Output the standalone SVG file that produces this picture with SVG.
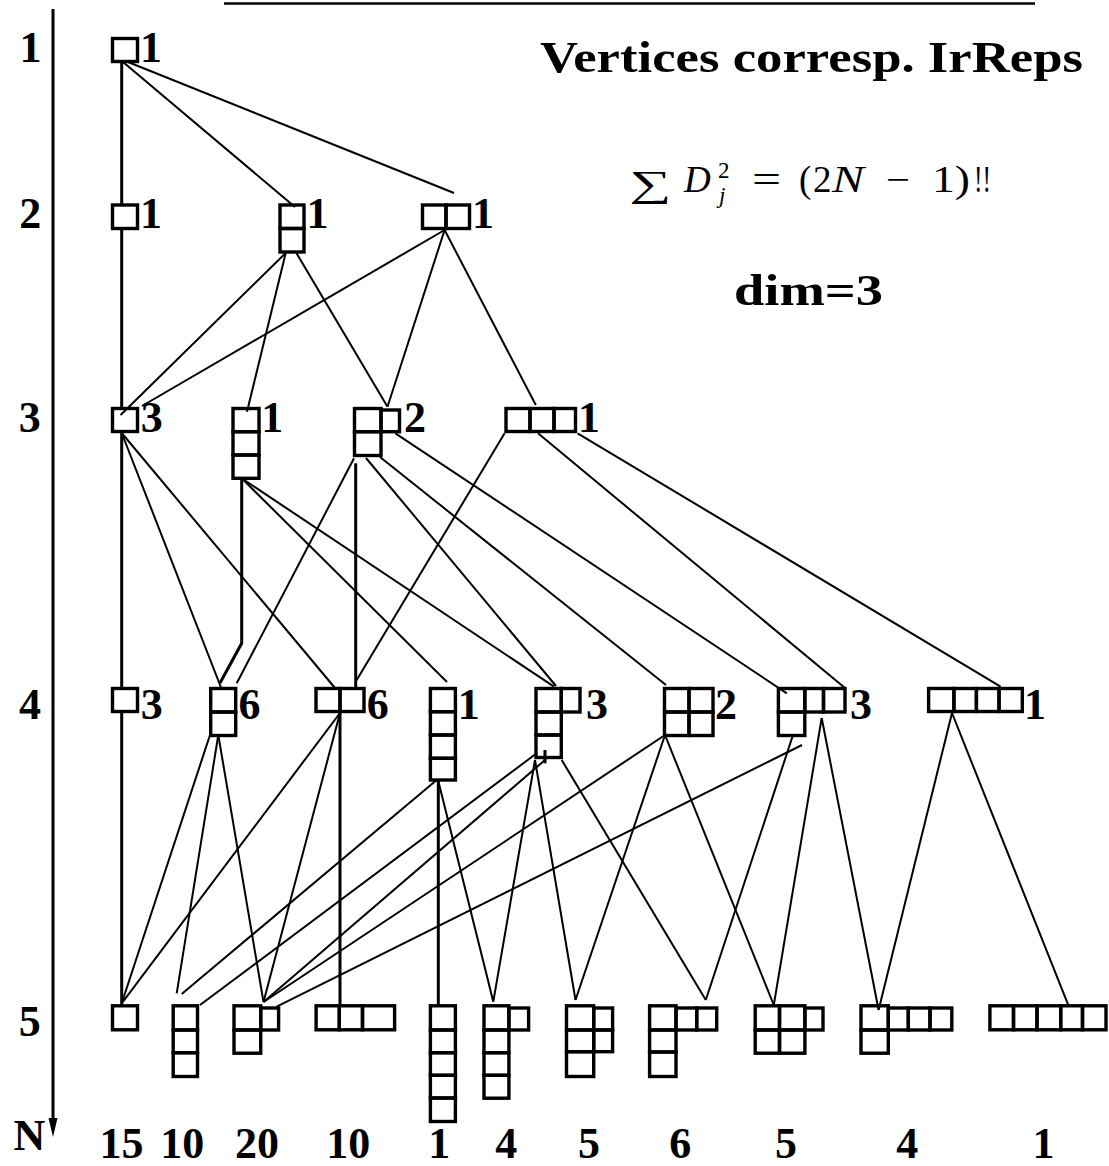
<svg xmlns="http://www.w3.org/2000/svg" width="1109" height="1166" viewBox="0 0 1109 1166">
<style>
.c{fill:none;stroke:#000;stroke-width:3.4}
.e{fill:none;stroke:#000;stroke-width:2}
.v{fill:none;stroke:#000;stroke-width:3}
.l{font-family:"Liberation Serif",serif;font-weight:bold;font-size:44px;text-anchor:middle;fill:#000}
.m{font-family:"Liberation Serif",serif;font-size:37px;fill:#000}
.i{font-style:italic}
</style>
<rect width="1109" height="1166" fill="#fff"/>
<g id="frame">
<line x1="224" y1="3.5" x2="1035" y2="3.5" stroke="#000" stroke-width="2.5"/>
<line x1="53" y1="9" x2="53" y2="1125" stroke="#000" stroke-width="3"/>
<polygon points="48.5,1118 57.5,1118 53,1137" fill="#000"/>
</g>
<g id="texts">
<text x="540" y="72" font-family="Liberation Serif, serif" font-weight="bold" font-size="45" textLength="543" lengthAdjust="spacingAndGlyphs">Vertices corresp. IrReps</text>
<text class="m" x="629" y="196" textLength="42" lengthAdjust="spacingAndGlyphs">∑</text>
<text class="m i" x="684" y="191.7">D</text>
<text x="718" y="178" style="font-family:'Liberation Serif',serif;font-size:23px">2</text>
<text x="719" y="203" style="font-family:'Liberation Serif',serif;font-size:23px;font-style:italic">j</text>
<text class="m" x="752" y="191.7" textLength="29" lengthAdjust="spacingAndGlyphs">=</text>
<text class="m" x="799" y="191.7">(</text>
<text class="m" x="813" y="191.7">2</text>
<text class="m i" x="832" y="191.7" textLength="32" lengthAdjust="spacingAndGlyphs">N</text>
<text class="m" x="886" y="191.7" textLength="24" lengthAdjust="spacingAndGlyphs">−</text>
<text class="m" x="932" y="191.7" textLength="38" lengthAdjust="spacingAndGlyphs">1)</text>
<text class="m" x="974" y="191.7" textLength="17" lengthAdjust="spacingAndGlyphs">!!</text>
<text x="734" y="305" font-family="Liberation Serif, serif" font-weight="bold" font-size="45" textLength="149" lengthAdjust="spacingAndGlyphs">dim=3</text>
<text class="l" x="30.4" y="62">1</text>
<text class="l" x="30.3" y="228.3">2</text>
<text class="l" x="29.7" y="431.7">3</text>
<text class="l" x="30" y="719">4</text>
<text class="l" x="29.8" y="1036">5</text>
<text class="l" x="29.5" y="1150">N</text>
<g id="dims">
<text class="l" x="121.4" y="1158">15</text>
<text class="l" x="182.2" y="1158">10</text>
<text class="l" x="257" y="1158">20</text>
<text class="l" x="348.2" y="1158">10</text>
<text class="l" x="439.3" y="1158">1</text>
<text class="l" x="506.3" y="1158">4</text>
<text class="l" x="589" y="1158">5</text>
<text class="l" x="680.2" y="1158">6</text>
<text class="l" x="786" y="1158">5</text>
<text class="l" x="907.3" y="1158">4</text>
<text class="l" x="1043.5" y="1158">1</text>
</g>
</g>
<g id="connectors">
<line class="v" x1="121.7" y1="61.5" x2="121.7" y2="205"/>
<line class="e" x1="123" y1="62" x2="295" y2="207"/>
<line class="e" x1="128" y1="62" x2="454" y2="193"/>
<line class="v" x1="121.7" y1="228.5" x2="121.7" y2="408.5"/>
<line class="e" x1="285.7" y1="253" x2="120.6" y2="415"/>
<line class="e" x1="285.7" y1="253" x2="247" y2="411.7"/>
<line class="e" x1="296.4" y1="253" x2="387.5" y2="406.7"/>
<line class="e" x1="444.6" y1="230" x2="142" y2="406"/>
<line class="e" x1="444.6" y1="230" x2="387.5" y2="406.7"/>
<line class="e" x1="444.6" y1="230" x2="535.8" y2="405"/>
<line class="v" x1="121.7" y1="431.5" x2="121.7" y2="688.5"/>
<line class="e" x1="121.7" y1="433" x2="222" y2="690"/>
<line class="e" x1="121.7" y1="433" x2="335" y2="688"/>
<polyline class="v" points="241.7,478.3 241.7,643.3 220,683"/>
<line class="e" x1="241.7" y1="478.3" x2="447" y2="682"/>
<line class="e" x1="241.7" y1="478.3" x2="554" y2="686.7"/>
<line class="e" x1="354" y1="458.3" x2="236.7" y2="683.3"/>
<line class="v" x1="355.7" y1="463.3" x2="355.7" y2="688.5"/>
<line class="e" x1="366" y1="458" x2="556" y2="686"/>
<line class="e" x1="380" y1="457" x2="666" y2="685"/>
<line class="e" x1="395.4" y1="433.3" x2="786.8" y2="693.3"/>
<line class="e" x1="504.6" y1="433.3" x2="356.7" y2="680"/>
<line class="e" x1="538" y1="433.3" x2="845" y2="688"/>
<line class="e" x1="577.6" y1="433.3" x2="1000.6" y2="686.7"/>
<line class="v" x1="121.7" y1="711.5" x2="121.7" y2="1005.8"/>
<line class="e" x1="210" y1="735" x2="121.7" y2="1003.3"/>
<line class="e" x1="218.3" y1="735" x2="176.7" y2="993.3"/>
<line class="e" x1="218.3" y1="735" x2="263.5" y2="1002"/>
<line class="e" x1="340" y1="713" x2="121.7" y2="1003.3"/>
<line class="e" x1="340" y1="713" x2="263.5" y2="1002"/>
<line class="v" x1="340" y1="711.5" x2="340" y2="1005.8"/>
<line class="v" x1="438.3" y1="780" x2="438.3" y2="1005.8"/>
<line class="e" x1="438.3" y1="781" x2="493.3" y2="1001.7"/>
<line class="e" x1="181.7" y1="994" x2="436.7" y2="780"/>
<line class="e" x1="200" y1="1005" x2="536.7" y2="753.3"/>
<line class="e" x1="263.5" y1="1002" x2="545" y2="760"/>
<line class="v" x1="545" y1="750" x2="545" y2="763.3"/>
<line class="e" x1="263.5" y1="1002" x2="665" y2="735"/>
<line class="e" x1="276.7" y1="1006.7" x2="802" y2="745"/>
<line class="e" x1="535" y1="760" x2="493.3" y2="1001.7"/>
<line class="e" x1="535" y1="760" x2="575.5" y2="1000"/>
<line class="e" x1="561.7" y1="760" x2="705.8" y2="1000"/>
<line class="e" x1="665" y1="735" x2="575.5" y2="1000"/>
<line class="e" x1="665" y1="735" x2="773.8" y2="1005"/>
<line class="e" x1="793" y1="735" x2="705.8" y2="1000"/>
<line class="e" x1="821.7" y1="718" x2="773.8" y2="1005"/>
<line class="e" x1="821.7" y1="718" x2="878.6" y2="1010"/>
<line class="e" x1="952" y1="713" x2="878.6" y2="1010"/>
<line class="e" x1="952" y1="713" x2="1068.9" y2="1006.7"/>
</g>
<g id="n1_0"><rect class="c" x="112.5" y="38.5" width="25" height="23"/><text class="l" x="151" y="62">1</text></g>
<g id="n2_0"><rect class="c" x="112.5" y="205" width="25" height="23.5"/><text class="l" x="151" y="228.3">1</text></g>
<g id="n2_1"><rect class="c" x="280" y="205" width="24" height="23.5"/><rect class="c" x="280" y="228.5" width="24" height="23.5"/><text class="l" x="317.4" y="228.3">1</text></g>
<g id="n2_2"><rect class="c" x="422.5" y="205" width="23.5" height="23.5"/><rect class="c" x="446" y="205" width="23.5" height="23.5"/><text class="l" x="483" y="228.3">1</text></g>
<g id="n3_0"><rect class="c" x="112.5" y="408.5" width="25" height="23"/><text class="l" x="151.8" y="431.7">3</text></g>
<g id="n3_1"><rect class="c" x="233" y="408.5" width="26" height="23.2"/><rect class="c" x="233" y="431.7" width="26" height="23.3"/><rect class="c" x="233" y="455" width="26" height="23.3"/><text class="l" x="272.3" y="431.7">1</text></g>
<g id="n3_2"><rect class="c" x="354.5" y="408.5" width="26.5" height="23.2"/><rect class="c" x="381" y="410" width="18.5" height="21.7"/><rect class="c" x="354.5" y="431.7" width="26.5" height="23.8"/><text class="l" x="415" y="431.7">2</text></g>
<g id="n3_3"><rect class="c" x="506" y="408.5" width="24" height="23"/><rect class="c" x="530" y="408.5" width="24" height="23"/><rect class="c" x="554" y="408.5" width="21.5" height="23"/><text class="l" x="589" y="431.7">1</text></g>
<g id="n4_0"><rect class="c" x="112.5" y="688.5" width="25" height="23"/><text class="l" x="151.8" y="719">3</text></g>
<g id="n4_1"><rect class="c" x="210.7" y="688.5" width="25" height="23.5"/><rect class="c" x="210.7" y="712" width="25" height="23.5"/><text class="l" x="249.6" y="719">6</text></g>
<g id="n4_2"><rect class="c" x="316" y="688.5" width="24" height="23"/><rect class="c" x="340" y="688.5" width="24" height="23"/><text class="l" x="377.8" y="719">6</text></g>
<g id="n4_3"><rect class="c" x="430.4" y="688.5" width="25" height="23.2"/><rect class="c" x="430.4" y="711.7" width="25" height="23.3"/><rect class="c" x="430.4" y="735" width="25" height="23.3"/><rect class="c" x="430.4" y="758.3" width="25" height="21.7"/><text class="l" x="468.8" y="719">1</text></g>
<g id="n4_4"><rect class="c" x="536" y="688.5" width="25.3" height="23.5"/><rect class="c" x="561.3" y="688.5" width="18.7" height="23.5"/><rect class="c" x="536" y="712" width="25.3" height="23"/><rect class="c" x="536" y="735" width="25.3" height="22.5"/><text class="l" x="596.9" y="719">3</text></g>
<g id="n4_5"><rect class="c" x="664.5" y="688.5" width="24.5" height="23.5"/><rect class="c" x="689" y="688.5" width="24" height="23.5"/><rect class="c" x="664.5" y="712" width="24.5" height="23.5"/><rect class="c" x="689" y="712" width="24" height="23.5"/><text class="l" x="726" y="719">2</text></g>
<g id="n4_6"><rect class="c" x="778.4" y="688.5" width="26.4" height="23.5"/><rect class="c" x="804.8" y="688.5" width="18.7" height="23.5"/><rect class="c" x="823.5" y="688.5" width="21.5" height="23.5"/><rect class="c" x="778.4" y="712" width="26.4" height="23.5"/><text class="l" x="861" y="719">3</text></g>
<g id="n4_7"><rect class="c" x="928.6" y="688.5" width="25.3" height="23"/><rect class="c" x="953.9" y="688.5" width="22.5" height="23"/><rect class="c" x="976.4" y="688.5" width="22.6" height="23"/><rect class="c" x="999" y="688.5" width="23.3" height="23"/><text class="l" x="1035" y="719">1</text></g>
<g id="n5_0"><rect class="c" x="112.5" y="1005.8" width="25" height="24"/></g>
<g id="n5_1"><rect class="c" x="173.2" y="1005.8" width="24.3" height="24.2"/><rect class="c" x="173.2" y="1030" width="24.3" height="22.7"/><rect class="c" x="173.2" y="1052.7" width="24.3" height="23.8"/></g>
<g id="n5_2"><rect class="c" x="234" y="1005.8" width="26.7" height="24.2"/><rect class="c" x="260.7" y="1008" width="17.9" height="22"/><rect class="c" x="234" y="1030" width="26.7" height="23.2"/></g>
<g id="n5_3"><rect class="c" x="316.1" y="1005.8" width="23.2" height="24"/><rect class="c" x="339.3" y="1005.8" width="23.2" height="24"/><rect class="c" x="362.5" y="1005.8" width="32.1" height="24"/></g>
<g id="n5_4"><rect class="c" x="430.4" y="1005.8" width="25" height="24.2"/><rect class="c" x="430.4" y="1030" width="25" height="22.7"/><rect class="c" x="430.4" y="1052.7" width="25" height="22.6"/><rect class="c" x="430.4" y="1075.3" width="25" height="22.7"/><rect class="c" x="430.4" y="1098" width="25" height="23.5"/></g>
<g id="n5_5"><rect class="c" x="484" y="1005.8" width="24.9" height="24.2"/><rect class="c" x="508.9" y="1008" width="19.7" height="22"/><rect class="c" x="484" y="1030" width="24.9" height="22.7"/><rect class="c" x="484" y="1052.7" width="24.9" height="22.6"/><rect class="c" x="484" y="1075.3" width="24.9" height="22.9"/></g>
<g id="n5_6"><rect class="c" x="566.5" y="1005.8" width="27.2" height="24.2"/><rect class="c" x="593.7" y="1008" width="18.9" height="22"/><rect class="c" x="566.5" y="1030" width="27.2" height="21.7"/><rect class="c" x="593.7" y="1030" width="18.9" height="21.7"/><rect class="c" x="566.5" y="1051.7" width="27.2" height="24.8"/></g>
<g id="n5_7"><rect class="c" x="649.6" y="1005.8" width="26.4" height="24.2"/><rect class="c" x="676" y="1008" width="20.7" height="22"/><rect class="c" x="696.7" y="1008" width="20" height="22"/><rect class="c" x="649.6" y="1030" width="26.4" height="22"/><rect class="c" x="649.6" y="1052" width="26.4" height="24.5"/></g>
<g id="n5_8"><rect class="c" x="755.2" y="1005.8" width="24.3" height="24.2"/><rect class="c" x="779.5" y="1005.8" width="25.4" height="24.2"/><rect class="c" x="804.9" y="1008" width="18.1" height="22"/><rect class="c" x="755.2" y="1030" width="24.3" height="23.2"/><rect class="c" x="779.5" y="1030" width="25.4" height="23.2"/></g>
<g id="n5_9"><rect class="c" x="861" y="1005.8" width="27.3" height="24.2"/><rect class="c" x="888.3" y="1008" width="20" height="22"/><rect class="c" x="908.3" y="1008" width="21.7" height="22"/><rect class="c" x="930" y="1008" width="21.8" height="22"/><rect class="c" x="861" y="1030" width="27.3" height="23.2"/></g>
<g id="n5_10"><rect class="c" x="989.9" y="1005.8" width="23.6" height="24"/><rect class="c" x="1013.5" y="1005.8" width="23.5" height="24"/><rect class="c" x="1037" y="1005.8" width="23.7" height="24"/><rect class="c" x="1060.7" y="1005.8" width="21.8" height="24"/><rect class="c" x="1082.5" y="1005.8" width="23.5" height="24"/></g>
</svg>
